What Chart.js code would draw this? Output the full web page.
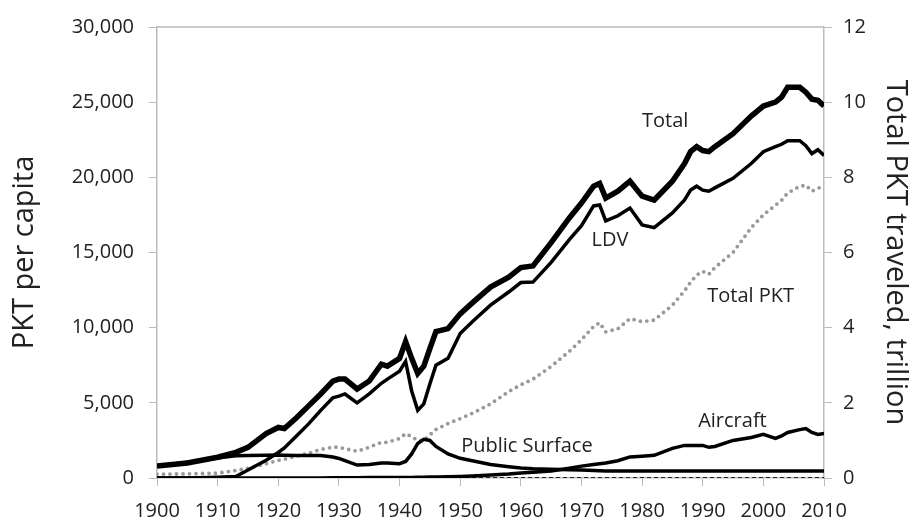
<!DOCTYPE html>
<html>
<head>
<meta charset="utf-8">
<script src="https://cdn.jsdelivr.net/npm/chart.js@4"></script>
<style>
  body { margin: 0; background: #fff; }
</style>
</head>
<body>
<canvas id="pktChart" width="917" height="521"></canvas>
<script>
// years
const years = [1900,1905,1910,1913,1915,1918,1920,1921,1923,1925,1927,1929,1930,1931,1933,1935,1937,1938,1940,1941,
  1942,1943,1944,1945,1946,1948,1950,1952,1955,1958,1960,1962,1965,1968,1970,1972,1973,1974,1976,1978,
  1980,1982,1985,1987,1988,1989,1990,1991,1992,1995,1998,2000,2002,2003,2004,2006,2007,2008,2009,2010];

// PKT per capita (left axis)
const totalPerCapita = [800,1000,1380,1710,2040,2960,3360,3290,4010,4800,5590,6450,6580,6580,5920,6450,7570,7440,7960,9080,
  7960,6950,7440,8600,9740,9940,10920,11650,12700,13360,14000,14100,15660,17300,18290,19410,19600,18620,19080,19740,
  18750,18490,19740,20920,21710,22040,21780,21710,22040,22900,24080,24740,25000,25330,25990,25990,25660,25200,25130,24740];
const ldv = [0,0,50,100,530,1180,1700,2000,2800,3600,4500,5330,5450,5590,5000,5600,6300,6580,7100,7760,
  5790,4500,4930,6250,7500,7960,9610,10400,11500,12370,13000,13030,14340,15860,16780,18100,18160,17100,17440,17960,
  16840,16650,17630,18490,19150,19410,19150,19080,19300,19940,20920,21710,22040,22200,22440,22440,22110,21580,21840,21450];
const publicSurface = [800,1050,1330,1480,1500,1520,1530,1520,1500,1500,1500,1400,1300,1150,860,900,1000,1000,950,1100,
  1600,2300,2570,2500,2100,1600,1310,1150,900,750,660,620,590,550,530,500,490,470,460,460,
  460,460,460,460,460,460,460,460,460,460,460,460,460,460,460,460,460,460,460,460];
const aircraft = [0,0,0,0,0,0,0,0,0,0,0,20,20,20,20,30,30,30,40,40,
  40,50,50,60,60,80,100,130,200,260,330,380,460,650,790,900,950,1000,1150,1400,
  1450,1510,1970,2170,2170,2170,2170,2040,2100,2500,2700,2900,2630,2800,3030,3220,3290,3030,2900,2960];
const other = years.map(() => 0);

// total PKT traveled, trillion (right axis)
const totalPKT = [0.10,0.11,0.13,0.20,0.26,0.38,0.47,0.50,0.58,0.66,0.76,0.82,0.82,0.78,0.71,0.82,0.95,0.95,1.05,1.18,
  1.10,1.00,1.00,1.15,1.29,1.45,1.58,1.72,1.97,2.30,2.48,2.63,2.97,3.37,3.68,4.03,4.13,3.89,3.97,4.24,
  4.16,4.20,4.60,4.98,5.21,5.40,5.50,5.42,5.60,6.00,6.66,7.00,7.26,7.39,7.58,7.76,7.79,7.63,7.71,7.76];

const leftTicks = [0, 5000, 10000, 15000, 20000, 25000, 30000];
const rightTicks = [0, 2, 4, 6, 8, 10, 12];

// text labels placed in data units
const labels = [
  { text: 'Total', x: 1983.8, y: 23750 },
  { text: 'LDV', x: 1974.7, y: 15790 },
  { text: 'Total PKT', x: 1997.9, y: 12100 },
  { text: 'Public Surface', x: 1961.0, y: 2100 },
  { text: 'Aircraft', x: 1994.9, y: 3750 }
];

const FONT = 'Open Sans';
const pts = arr => years.map((yr, i) => ({ x: yr, y: arr[i] }));

const textLabels = {
  id: 'textLabels',
  afterDatasetsDraw(chart) {
    const ctx = chart.ctx;
    const xs = chart.scales.x, ys = chart.scales.y;
    ctx.save();
    ctx.font = '20px "' + FONT + '"';
    ctx.fillStyle = '#222';
    ctx.textAlign = 'center';
    ctx.textBaseline = 'middle';
    labels.forEach(l => ctx.fillText(l.text, xs.getPixelForValue(l.x), ys.getPixelForValue(l.y)));
    ctx.restore();
  }
};

// top edge of the plot frame
const frame = {
  id: 'frame',
  afterDraw(chart) {
    const a = chart.chartArea, ctx = chart.ctx;
    ctx.save();
    ctx.strokeStyle = '#bbb';
    ctx.lineWidth = 1.5;
    ctx.beginPath();
    ctx.moveTo(a.left, a.top);
    ctx.lineTo(a.right, a.top);
    ctx.stroke();
    ctx.restore();
  }
};

const blackLine = (label, data, width) => ({
  label: label, data: pts(data), yAxisID: 'y',
  borderColor: '#000', borderWidth: width, pointRadius: 0, tension: 0, fill: false
});

const tickFont = { family: FONT, size: 20 };
const titleFont = { family: FONT, size: 29 };

new Chart(document.getElementById('pktChart').getContext('2d'), {
  type: 'line',
  data: {
    datasets: [
      blackLine('Total', totalPerCapita, 5.5),
      blackLine('LDV', ldv, 3.5),
      blackLine('Public Surface', publicSurface, 3.5),
      blackLine('Aircraft', aircraft, 3.5),
      {
        label: 'Other', data: pts(other), yAxisID: 'y',
        borderColor: '#222', borderWidth: 2, borderDash: [4, 3], pointRadius: 0
      },
      {
        label: 'Total PKT', data: pts(totalPKT), yAxisID: 'y2',
        borderColor: '#999', borderWidth: 3.8, borderDash: [0, 6.5], borderCapStyle: 'round',
        pointRadius: 0, tension: 0
      }
    ]
  },
  options: {
    responsive: false,
    animation: false,
    layout: { padding: { left: 3, right: 0, top: 22, bottom: 0 } },
    plugins: { legend: { display: false }, tooltip: { enabled: false } },
    scales: {
      x: {
        type: 'linear', min: 1900, max: 2010,
        afterFit: s => { s.height = 43; },
        border: { color: '#bbb', width: 1.5 },
        grid: { drawOnChartArea: false, tickLength: 8, color: '#bbb' },
        ticks: { stepSize: 10, padding: 13, maxRotation: 0, color: '#222', font: tickFont, callback: v => String(v) }
      },
      y: {
        position: 'left', min: 0, max: 30000,
        afterFit: s => { s.width = 154; },
        afterBuildTicks: s => { s.ticks = leftTicks.map(v => ({ value: v })); },
        border: { color: '#bbb', width: 1.5 },
        grid: { drawOnChartArea: false, tickLength: 8, color: '#bbb' },
        ticks: { padding: 15, color: '#222', font: tickFont },
        title: { display: true, text: 'PKT per capita', color: '#222', font: titleFont }
      },
      y2: {
        position: 'right', min: 0, max: 12,
        afterFit: s => { s.width = 93; },
        afterBuildTicks: s => { s.ticks = rightTicks.map(v => ({ value: v })); },
        border: { color: '#bbb', width: 1.5 },
        grid: { drawOnChartArea: false, tickLength: 8, color: '#bbb' },
        ticks: { padding: 11, color: '#222', font: tickFont },
        title: { display: true, text: 'Total PKT traveled, trillion', color: '#222', font: titleFont }
      }
    }
  },
  plugins: [textLabels, frame]
});
</script>
</body>
</html>
